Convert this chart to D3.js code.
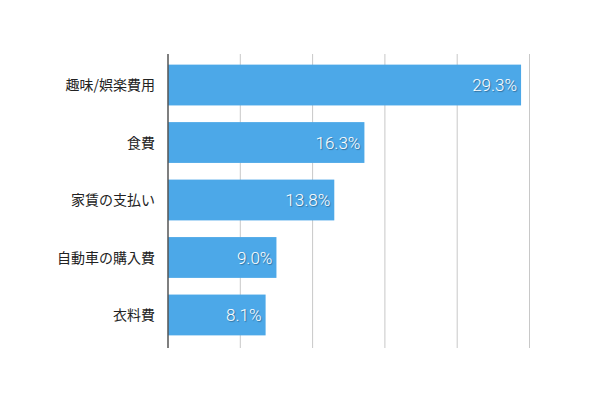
<!DOCTYPE html>
<html><head><meta charset="utf-8">
<script src="https://cdn.jsdelivr.net/npm/d3@7"></script>
<style>body{margin:0;background:#fff}</style>
</head><body>
<svg id="c" width="600" height="401"></svg>
<script>
var categories = ["趣味/娯楽費用", "食費", "家賃の支払い", "自動車の購入費", "衣料費"];
var values = [29.3, 16.3, 13.8, 9.0, 8.1];
var gridTicks = [6, 12, 18, 24, 30];

var svg = d3.select("#c");
var x = d3.scaleLinear().domain([0, 30]).range([168, 529.5]);
var y = d3.scaleBand().domain(categories).range([56, 344]).paddingInner(0.29).paddingOuter(0.15);

// gridlines
svg.selectAll(".g").data(gridTicks).enter().append("line")
  .attr("x1", d => x(d)).attr("x2", d => x(d))
  .attr("y1", 54).attr("y2", 348)
  .attr("stroke", "#c8c8c8").attr("stroke-width", 1);

svg.selectAll(".b").data(values).enter().append("rect")
  .attr("x", x(0)).attr("y", (d, i) => y(categories[i]))
  .attr("width", d => x(d) - x(0)).attr("height", y.bandwidth())
  .attr("fill", "#4ca8e8");

svg.append("line").attr("x1", 168).attr("x2", 168).attr("y1", 54).attr("y2", 348)
  .attr("stroke", "#555").attr("stroke-width", 1.5);

svg.selectAll(".v").data(values).enter().append("text")
  .attr("x", d => x(d) - 4).attr("y", (d, i) => y(categories[i]) + y.bandwidth() / 2)
  .attr("dy", "0.36em").attr("text-anchor", "end")
  .attr("font-family", "Roboto, sans-serif").attr("font-weight", 300).attr("font-size", 17)
  .attr("fill", "#fff").style("text-shadow", "1px 1px 1px rgba(0,0,0,0.35)")
  .text(d => d.toFixed(1) + "%");

svg.selectAll(".c").data(categories).enter().append("text")
  .attr("x", 155).attr("y", d => y(d) + y.bandwidth() / 2)
  .attr("dy", "0.36em").attr("text-anchor", "end")
  .attr("font-family", "'Noto Sans CJK JP', sans-serif").attr("font-size", 14)
  .attr("fill", "#222").text(d => d);
</script>
</body></html>
